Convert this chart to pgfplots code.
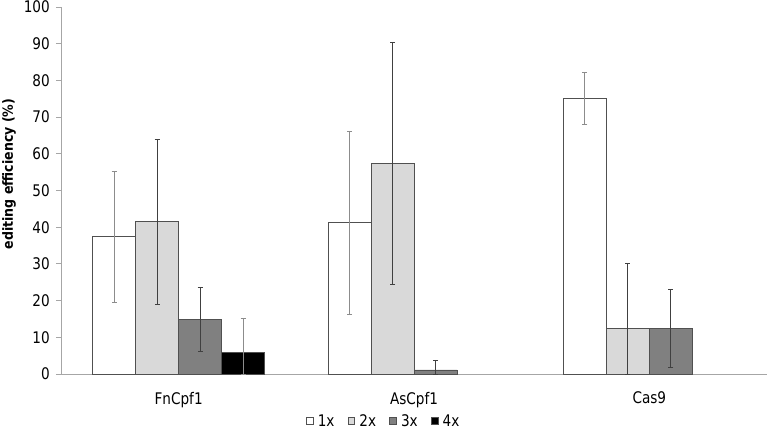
\documentclass[border=0pt]{standalone}
\usepackage{pgfplots}
\pgfplotsset{compat=1.18}
\usepackage{fontspec}
\setmainfont{DejaVu Sans}[FakeStretch=0.85]
\newfontfamily\labfont{DejaVu Sans}[FakeStretch=0.9]
\definecolor{axgray}{HTML}{A6A6A6}
\definecolor{edge}{HTML}{505050}
\definecolor{errlight}{HTML}{8C8C8C}
\definecolor{errdark}{HTML}{404040}
\definecolor{fill2}{HTML}{D9D9D9}
\definecolor{fill3}{HTML}{808080}
\begin{document}
\begin{tikzpicture}
\useasboundingbox (0,0) rectangle (768pt,431pt);
\begin{axis}[
  at={(61pt,57pt)}, anchor=south west,
  scale only axis, width=706pt, height=367pt,
  xmin=-0.5, xmax=2.5, ymin=0, ymax=100,
  ybar=0pt, bar width=43pt,
  axis lines*=left,
  axis line style={axgray, line width=0.8pt},
  xtick={0,1,2}, xticklabels={FnCpf1,AsCpf1,Cas9},
  major x tick style={draw=none},
  ytick={0,10,...,100},
  tick style={axgray, line width=0.8pt},
  ytick align=outside, major tick length=5pt,
  tick label style={font=\fontsize{16}{18}\selectfont},
  xticklabel style={yshift=-9.5pt},
  yticklabel style={xshift=-2.7pt},
  /pgf/number format/assume math mode=true,
  ylabel={editing efficiency (\%)},
  ylabel style={font=\labfont\bfseries\fontsize{14}{16}\selectfont, at={(axis description cs:-0.0737,0.545)}, anchor=center},
  legend style={draw=none, at={(0.457,-0.128)}, anchor=center, legend columns=4, font=\fontsize{16}{18}\selectfont, inner sep=0pt,
    /tikz/every odd column/.append style={column sep=2.5pt},
    /tikz/every even column/.append style={column sep=11pt}},
  legend image code/.code={\draw[#1, line width=0.6pt] (0pt,-3.4pt) rectangle (6.8pt,3.4pt);},
  clip=false,
]
\addplot[draw=edge, fill=white, line width=0.6pt,
  error bars/.cd, y dir=both, y explicit,
  error bar style={errlight, line width=0.8pt},
  error mark options={rotate=90, mark size=2.5pt, errlight, line width=0.8pt}]
  coordinates {(0,37.4) +- (0,17.8) (1,41.2) +- (0,25) (2,75.1) +- (0,7.1)};
\addplot[draw=edge, fill=fill2, line width=0.6pt,
  error bars/.cd, y dir=both, y explicit,
  error bar style={errdark, line width=0.8pt},
  error mark options={rotate=90, mark size=2.5pt, errdark, line width=0.8pt}]
  coordinates {(0,41.5) +- (0,22.4) (1,57.4) +- (0,33) (2,12.5) += (0,17.7) -= (0,12.5)};
\addplot[draw=edge, fill=fill3, line width=0.6pt,
  error bars/.cd, y dir=both, y explicit,
  error bar style={errdark, line width=0.8pt},
  error mark options={rotate=90, mark size=2.5pt, errdark, line width=0.8pt}]
  coordinates {(0,14.9) +- (0,8.8) (1,1.1) += (0,2.6) -= (0,1.1) (2,12.5) +- (0,10.6)};
\addplot[draw=edge, fill=black, line width=0.6pt,
  error bars/.cd, y dir=both, y explicit,
  error bar style={errlight, line width=0.8pt},
  error mark options={rotate=90, mark size=2.5pt, errlight, line width=0.8pt}]
  coordinates {(0,6.0) += (0,9.1) -= (0,6.0)};
\legend{1x,2x,3x,4x}
\end{axis}
\end{tikzpicture}
\end{document}
